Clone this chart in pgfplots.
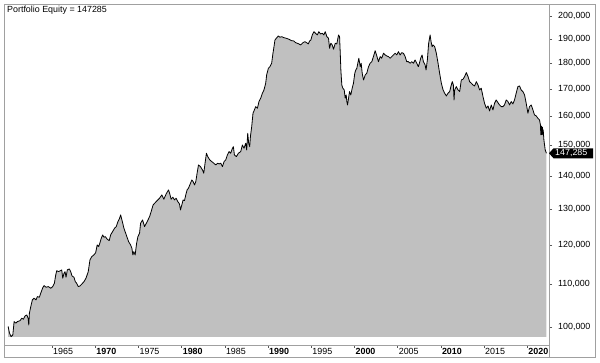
\documentclass[border=0pt]{standalone}
\usepackage{fontspec}
\setmainfont{Liberation Sans}
\usepackage{pgfplots}
\pgfplotsset{compat=1.18}
\usepackage{pgfplotstable}
\definecolor{framegray}{RGB}{160,160,160}
\definecolor{areagray}{RGB}{192,192,192}
\pgfplotstableread{
year value
1959.92 100100
1960.07 98670
1960.26 97860
1960.46 98230
1960.61 101190
1960.81 100830
1960.99 101190
1961.30 101410
1961.50 101960
1961.68 101730
1961.88 102480
1962.08 102710
1962.23 101960
1962.31 100450
1962.38 103100
1962.54 104630
1962.72 106200
1962.92 106610
1963.15 106200
1963.30 106990
1963.53 106840
1963.69 107800
1963.93 109150
1964.08 109640
1964.31 109250
1964.57 109400
1964.85 109010
1965.08 109400
1965.27 110230
1965.43 112290
1965.54 113370
1965.73 113120
1965.92 113290
1966.12 113550
1966.24 111470
1966.39 112720
1966.50 113120
1966.62 111710
1966.77 113550
1967.00 113800
1967.16 113120
1967.31 112040
1967.54 111710
1967.69 110630
1967.85 110230
1968.04 109400
1968.24 109570
1968.43 109990
1968.70 110630
1968.93 111470
1969.19 113120
1969.39 116110
1969.59 116960
1969.85 117410
1970.05 118010
1970.23 120050
1970.40 119600
1970.55 120670
1970.70 121860
1970.86 122760
1971.01 122130
1971.16 122300
1971.39 121590
1971.62 121210
1971.78 122760
1972.01 123670
1972.24 124610
1972.43 125050
1972.63 126450
1972.82 127420
1972.94 128360
1973.09 126930
1973.32 124610
1973.59 122760
1973.86 120940
1974.09 120050
1974.24 119170
1974.36 117410
1974.47 118270
1974.62 117410
1974.79 120510
1974.94 122300
1975.13 123230
1975.25 126000
1975.48 126930
1975.71 125050
1976.01 126450
1976.29 127870
1976.47 129300
1976.70 131250
1977.05 132220
1977.44 133230
1977.71 134210
1977.94 132930
1978.21 134510
1978.48 135710
1978.63 134510
1978.78 132930
1978.98 133520
1979.18 132720
1979.36 133230
1979.56 132220
1979.75 131540
1979.87 129800
1980.02 131250
1980.17 132720
1980.33 132520
1980.48 134210
1980.63 135710
1980.79 136230
1981.03 137760
1981.18 138770
1981.33 138250
1981.49 137230
1981.64 138250
1981.79 140860
1981.95 143490
1982.18 142950
1982.41 141900
1982.56 140860
1982.71 144040
1982.87 147280
1983.02 146170
1983.26 145100
1983.49 144550
1983.72 144040
1983.95 143490
1984.18 144040
1984.33 143810
1984.53 144040
1984.72 142950
1984.91 144550
1985.10 145100
1985.30 146720
1985.49 147810
1985.68 147280
1985.88 148930
1985.99 149460
1986.11 146720
1986.34 146170
1986.57 147280
1986.84 147810
1987.03 150030
1987.22 148930
1987.42 150600
1987.53 148370
1987.65 154000
1987.76 150600
1987.88 149460
1987.96 152830
1988.11 156280
1988.26 161020
1988.42 162200
1988.57 163400
1988.77 162820
1988.95 165230
1989.15 166490
1989.35 168360
1989.53 169600
1989.73 172150
1989.84 175370
1990.04 178000
1990.22 178630
1990.42 179990
1990.57 184050
1990.69 186780
1990.80 189590
1990.96 190310
1991.19 191290
1991.38 190730
1991.57 190990
1991.84 190560
1992.12 190310
1992.42 189880
1992.73 189290
1992.99 189170
1993.19 188450
1993.39 188200
1993.57 187910
1993.77 187490
1993.89 187910
1994.04 188450
1994.27 188870
1994.46 188450
1994.66 187910
1994.81 189170
1994.96 189590
1995.12 191710
1995.31 193130
1995.50 192440
1995.70 191710
1995.88 193130
1996.08 192140
1996.28 192440
1996.46 191710
1996.62 193130
1996.81 190990
1997.00 190310
1997.12 186110
1997.27 188200
1997.43 187490
1997.58 185700
1997.78 188200
1997.96 187910
1998.16 191710
1998.28 190990
1998.36 184050
1998.43 177320
1998.54 171500
1998.66 170240
1998.82 169600
1998.93 166490
1999.05 167720
1999.12 165230
1999.20 164020
1999.32 166490
1999.43 168960
1999.58 167720
1999.74 170240
1999.89 172150
2000.04 176030
2000.16 177320
2000.28 178000
2000.39 179990
2000.51 182010
2000.67 178630
2000.78 179990
2000.90 176030
2001.05 173420
2001.25 175370
2001.43 176030
2001.63 178630
2001.82 179990
2002.01 180640
2002.20 182660
2002.40 185120
2002.59 182950
2002.78 180640
2002.98 182660
2003.16 182010
2003.36 184050
2003.56 183350
2003.74 182950
2003.94 182660
2004.13 182010
2004.32 182660
2004.51 183350
2004.71 184050
2004.90 183350
2005.09 184710
2005.29 183350
2005.47 184300
2005.67 184050
2005.87 182660
2006.05 180640
2006.25 180640
2006.44 179990
2006.63 180640
2006.83 179990
2007.02 181320
2007.21 179990
2007.40 178630
2007.52 179990
2007.67 182010
2007.83 183350
2007.98 180640
2008.18 179310
2008.29 177320
2008.44 181320
2008.59 188200
2008.76 191710
2008.87 188870
2008.99 186780
2009.10 187490
2009.29 186780
2009.48 184050
2009.68 179990
2009.86 176030
2010.06 172150
2010.26 169600
2010.44 168360
2010.64 167350
2010.83 168360
2011.02 168960
2011.21 171500
2011.33 172770
2011.45 171500
2011.53 165860
2011.60 169600
2011.79 170850
2011.99 169600
2012.18 168960
2012.37 173420
2012.57 173690
2012.75 174700
2012.95 176270
2013.15 174700
2013.33 172770
2013.53 172150
2013.72 171500
2013.91 171120
2014.11 172770
2014.30 171500
2014.49 169600
2014.68 170240
2014.88 167090
2015.06 164650
2015.26 162820
2015.46 163660
2015.64 161840
2015.84 164020
2016.03 162200
2016.22 164650
2016.41 165860
2016.61 164870
2016.79 164020
2016.99 163400
2017.19 163400
2017.37 164020
2017.57 165860
2017.77 165230
2017.95 164020
2018.15 165230
2018.34 164390
2018.53 165860
2018.72 168360
2018.92 170850
2019.11 171120
2019.30 169600
2019.50 168960
2019.69 167720
2019.88 164650
2020.08 161020
2020.26 163400
2020.46 164020
2020.66 162200
2020.84 160410
2021.04 160050
2021.23 159230
2021.42 158630
2021.53 156870
2021.57 153500
2021.61 156500
2021.65 153500
2021.69 156300
2021.73 153600
2021.77 156000
2021.81 153600
2021.85 155100
2021.93 151710
2022.08 148370
2022.22 147285
}\equity
\begin{document}
\begin{tikzpicture}[font=\fontsize{8.9}{10}\selectfont]
\path[use as bounding box] (0pt,0pt) rectangle (600pt,363pt);
\begin{axis}[
  at={(4pt,18pt)}, anchor=south west,
  scale only axis, width=545pt, height=341pt,
  xmin=1959.44, xmax=2022.52,
  ymode=log, ymin=96068, ymax=205420,
  axis x line*=bottom, axis y line*=right,
  axis line style={draw=framegray, line width=0.8pt},
  tick style={black!65, line width=0.6pt},
  major tick length=3pt, tick align=outside,
  xtick={1965,1970,1975,1980,1985,1990,1995,2000,2005,2010,2015,2020},
  xticklabels={1965,\textbf{1970},1975,\textbf{1980},1985,\textbf{1990},1995,\textbf{2000},2005,\textbf{2010},2015,\textbf{2020}},
  ytick={100000,110000,120000,130000,140000,150000,160000,170000,180000,190000,200000},
  yticklabels={{100,000},{110,000},{120,000},{130,000},{140,000},{150,000},{160,000},{170,000},{180,000},{190,000},{200,000}},
  xticklabel style={anchor=north west, inner sep=0pt, xshift=1pt, yshift=-0.5pt},
  yticklabel style={anchor=west, inner sep=0pt, xshift=6pt},
]
\addplot[fill=areagray, draw=none, forget plot] table[x=year,y=value] {\equity}
  -- (axis cs:2022.22,97800) -- (axis cs:1959.92,97800) -- cycle;
\addplot[black, line width=0.8pt, line join=round] table[x=year,y=value] {\equity};
\coordinate (tag) at (axis cs:2022.52,147285);
\end{axis}
\draw[framegray, line width=0.8pt] (4pt,6pt) rectangle (595pt,359pt);
\draw[framegray, line width=0.8pt] (549pt,6pt) -- (549pt,359pt);
\fill[black] (tag) -- ++(4.5pt,5pt) -- ++(39.5pt,0pt) -- ++(0pt,-10pt) -- ++(-39.5pt,0pt) -- cycle;
\node[white, anchor=west, inner sep=0pt] at ([xshift=6pt]tag) {147,285};
\node[anchor=base west, inner sep=0pt] at (7pt,350pt) {Portfolio Equity = 147285};
\end{tikzpicture}
\end{document}
